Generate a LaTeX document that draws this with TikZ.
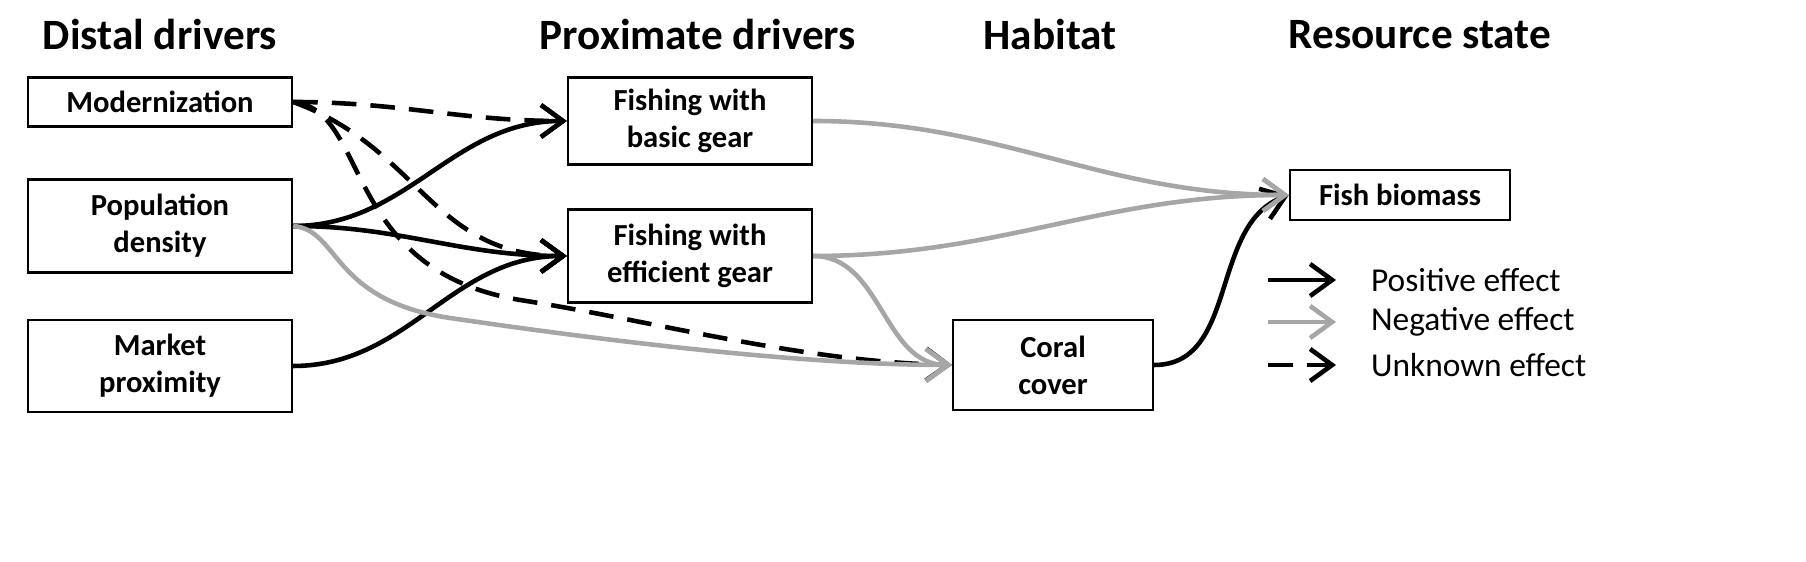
\documentclass[tikz,border=0pt]{standalone}
\usepackage{fontspec}
\setmainfont{Carlito}
\usetikzlibrary{arrows.meta,positioning}
\tikzset{>={Straight Barb[length=2.2mm,width=3.2mm]}}

\begin{document}
\begin{tikzpicture}[x=0.01cm,y=-0.01cm,
	box/.style={draw,line width=0.6pt,minimum width=2.64cm,align=center,font=\fontsize{8.7}{10.5}\selectfont\bfseries},
	head/.style={font=\fontsize{12.3}{14}\selectfont\bfseries},
	poseff/.style={->,line width=1.3pt,black},
	negeff/.style={->,line width=1.3pt,black!35},
	unkeff/.style={->,line width=1.3pt,black,dash pattern=on 7pt off 4pt},
	leg/.style={font=\fontsize{9.5}{11}\selectfont,anchor=west}]
	\useasboundingbox (0,0) rectangle (1806,562);
	% column heads
	\node[head] (hdistal) at (160,35) {Distal drivers};
	\node[head] (hprox) at (698,35) {Proximate drivers};
	\node[head] (hhab) at (1050,35) {Habitat};
	\node[head] (hres) at (1420,35) {Resource state};
	% boxes
	\node[box,minimum height=0.49cm] (modern) at (160,102) {Modernization};
	\node[box,minimum height=0.93cm] (popul) at (160,226) {Population\\density};
	\node[box,minimum height=0.92cm] (market) at (160,366) {Market\\proximity};
	\node[box,minimum width=2.44cm,minimum height=0.82cm] (basic) at (690,121) {Fishing with\\basic gear};
	\node[box,minimum width=2.44cm,minimum height=0.93cm] (effic) at (690,256) {Fishing with\\efficient gear};
	\node[box,minimum width=2.2cm,minimum height=0.5cm] (fish) at (1400,195) {Fish biomass};
	\node[box,minimum width=2.0cm,minimum height=0.9cm] (coral) at (1053,365) {Coral\\cover};
	% unknown effects
	\draw[unkeff] (modern.east) to[out=0,in=180] (basic.west);
	\draw[unkeff] (modern.east) to[out=-20,in=180,looseness=1.1] (effic.west);
	\draw[unkeff] (modern.east) .. controls (370,110) and (340,270) .. (520,300)
		.. controls (650,320) and (800,362) .. (coral.west);
	% positive effects
	\draw[poseff] (popul.east) to[out=0,in=180] (basic.west);
	\draw[poseff] (popul.east) to[out=0,in=180] (effic.west);
	\draw[poseff] (market.east) to[out=0,in=180] (effic.west);
	\draw[poseff] (coral.east) to[out=0,in=200] (fish.west);
	% negative effects
	\draw[negeff] (popul.east) .. controls (340,230) and (330,300) .. (450,318)
		.. controls (600,340) and (800,365) .. (coral.west);
	\draw[negeff] (basic.east) to[out=0,in=180] (fish.west);
	\draw[negeff] (effic.east) to[out=0,in=180] (fish.west);
	\draw[negeff] (effic.east) to[out=0,in=180] (coral.west);
	% legend
	\coordinate (lp) at (1268,280);
	\coordinate (ln) at (1268,322);
	\coordinate (lu) at (1268,365);
	\draw[poseff] (lp) -- ++(68,0) node[leg,black] (tpos) {\hspace{6pt}Positive effect};
	\draw[negeff] (ln) -- ++(68,0) node[leg,black] (tneg) {\hspace{6pt}Negative effect};
	\draw[unkeff] (lu) -- ++(68,0) node[leg,black] (tunk) {\hspace{6pt}Unknown effect};
\end{tikzpicture}
\end{document}
